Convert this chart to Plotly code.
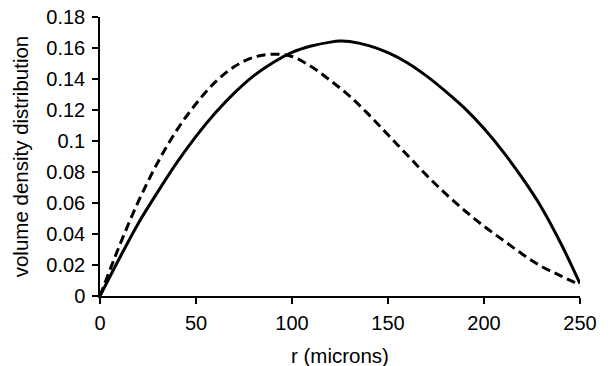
import plotly.graph_objects as go

r_vals = [0, 10, 20, 30, 40, 50, 60, 70, 80, 90, 100, 110, 120, 125, 130, 140, 150,
          160, 170, 180, 190, 200, 210, 220, 230, 240, 250]
solid_vals = [0, 0.024, 0.047, 0.067, 0.086, 0.103, 0.118, 0.131, 0.142, 0.1505, 0.1572,
              0.1613, 0.1638, 0.1645, 0.1642, 0.1615, 0.157, 0.1505, 0.142, 0.132, 0.121,
              0.108, 0.093, 0.076, 0.057, 0.034, 0.008]

r_dash = [0, 10, 20, 30, 40, 50, 60, 70, 80, 90, 100, 110, 120, 130, 140, 150, 160,
          170, 180, 190, 200, 210, 220, 230, 240, 250]
dash_vals = [0, 0.032, 0.061, 0.086, 0.107, 0.124, 0.138, 0.148, 0.154, 0.156, 0.1545,
             0.148, 0.139, 0.129, 0.117, 0.104, 0.091, 0.078, 0.066, 0.055, 0.045,
             0.036, 0.027, 0.019, 0.013, 0.007]

y_ticks = [0, 0.02, 0.04, 0.06, 0.08, 0.1, 0.12, 0.14, 0.16, 0.18]
y_labels = ["0", "0.02", "0.04", "0.06", "0.08", "0.1", "0.12", "0.14", "0.16", "0.18"]
x_ticks = [0, 50, 100, 150, 200, 250]
x_title = "r (microns)"
y_title = "volume density distribution"

fig = go.Figure()
fig.add_trace(go.Scatter(x=r_vals, y=solid_vals, mode="lines", line_shape="spline",
                         line=dict(color="black", width=3), showlegend=False))
fig.add_trace(go.Scatter(x=r_dash, y=dash_vals, mode="lines", line_shape="spline",
                         line=dict(color="black", width=3, dash="9px,5px"), showlegend=False))

tick_font = dict(family="Liberation Sans, Arial, sans-serif", size=20, color="black")
title_font = dict(family="Liberation Sans, Arial, sans-serif", size=20.5, color="black")
fig.update_layout(
    width=616, height=366,
    margin=dict(l=100, r=36, t=17, b=70),
    paper_bgcolor="white", plot_bgcolor="white",
    font=tick_font,
    xaxis=dict(range=[0, 250], tickvals=x_ticks, showgrid=False, zeroline=False,
               showline=True, linecolor="black", linewidth=1.5,
               ticks="outside", ticklen=6, tickcolor="black", tickwidth=1.5,
               tickfont=tick_font, ticklabelstandoff=2, automargin=False),
    yaxis=dict(range=[0, 0.18], tickvals=y_ticks, ticktext=y_labels, showgrid=False,
               zeroline=False, showline=True, linecolor="black", linewidth=1.5,
               ticks="outside", ticklen=6, tickcolor="black", tickwidth=1.5,
               tickfont=tick_font, ticklabelstandoff=3, automargin=False),
    annotations=[
        dict(text=x_title, xref="paper", yref="paper", x=0.5, y=-0.215,
             xanchor="center", yanchor="middle", showarrow=False, font=title_font),
        dict(text=y_title, xref="paper", yref="paper", x=-0.165, y=0.5, textangle=-90,
             xanchor="center", yanchor="middle", showarrow=False, font=title_font),
    ],
)
fig.write_html("out.html")
